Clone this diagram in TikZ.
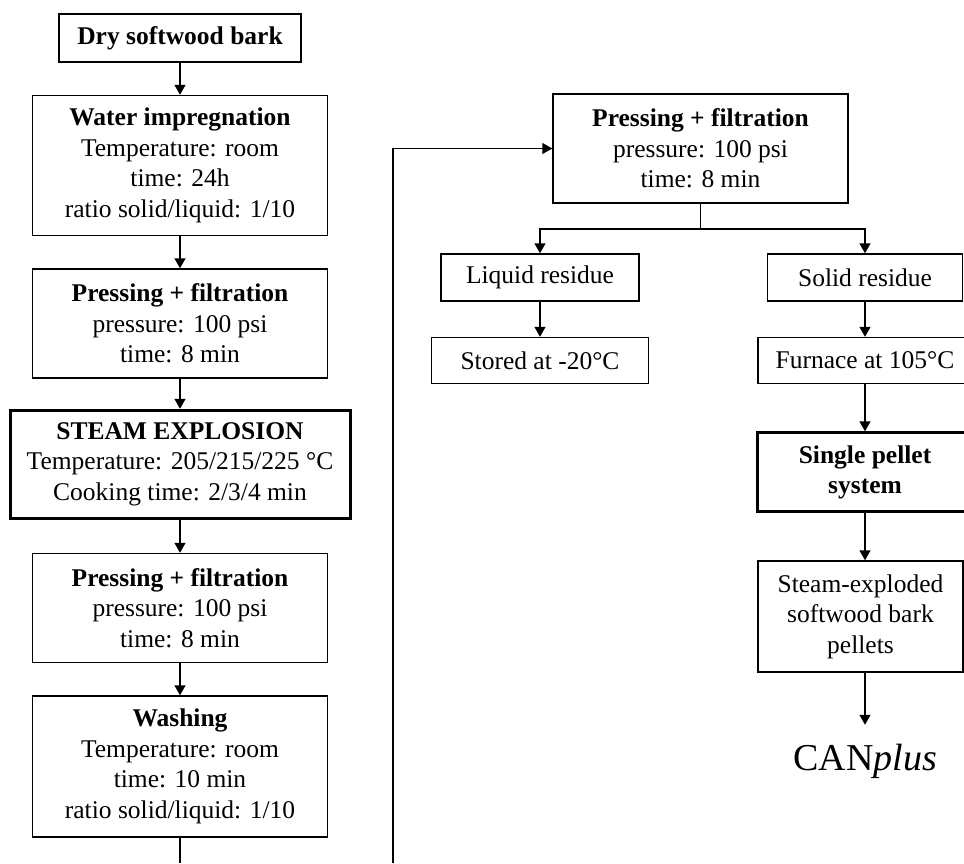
\documentclass[tikz,border=0pt]{standalone}
\usepackage{fontspec}
\setmainfont{Liberation Serif}
\usetikzlibrary{arrows.meta,positioning}

\begin{document}
\begin{tikzpicture}[
    x=0.5pt,y=-0.5pt,
    >={Triangle[length=5pt,width=5.5pt]},line width=0.75pt,node distance=16pt,
    font=\fontsize{12.75}{15.3}\selectfont,
    stepbox/.style={draw,rectangle,align=center,minimum width=147.5pt,minimum height=54.5pt,inner sep=2pt},
    keybox/.style={stepbox,line width=1.5pt}
  ]
  \useasboundingbox (0,0) rectangle (964,863);
  \node[stepbox,minimum width=121pt,minimum height=24pt] (dry) at (180,38) {\textbf{Dry softwood bark}};
  \node[stepbox,minimum height=70pt] (soak) [below=of dry] {\textbf{Water impregnation}\\Temperature: room\\time: 24h\\ratio solid/liquid: 1/10};
  \node[stepbox] (press1) [below=of soak] {\textbf{Pressing + filtration}\\pressure: 100 psi\\time: 8 min};
  \node[keybox,minimum width=170pt,minimum height=54pt] (steam) [below=15pt of press1] {\textbf{STEAM EXPLOSION}\\Temperature: 205/215/225 °C\\Cooking time: 2/3/4 min};
  \node[stepbox] (press2) [below=16.5pt of steam] {\textbf{Pressing + filtration}\\pressure: 100 psi\\time: 8 min};
  \node[stepbox,minimum height=70.5pt] (wash) [below=of press2] {\textbf{Washing}\\Temperature: room\\time: 10 min\\ratio solid/liquid: 1/10};
  \coordinate (cut1) at (180,863);
  \coordinate (cut2) at (393,863);

  \node[stepbox] (press3) at (700.5,148.5) {\textbf{Pressing + filtration}\\pressure: 100 psi\\time: 8 min};
  \node[stepbox,minimum width=99pt,minimum height=23.5pt] (liquid) at (540,277.5) {Liquid residue};
  \node[stepbox,minimum width=108.5pt,minimum height=23pt] (stored) [below=17.5pt of liquid] {Stored at -20°C};
  \node[stepbox,minimum width=97.5pt,minimum height=23.5pt] (solid) at (865,277.5) {Solid residue};
  \node[stepbox,minimum width=107pt,minimum height=23pt] (furnace) [below=17.5pt of solid] {Furnace at 105°C};
  \node[keybox,minimum width=108pt,minimum height=39.5pt] (pellet) [below=23.5pt of furnace] {\textbf{Single pellet}\\\textbf{system}};
  \node[stepbox,minimum width=102.5pt,minimum height=55.5pt] (product) [below=23.5pt of pellet,xshift=-2.25pt] {Steam-exploded\\softwood bark\\pellets};
  \node[inner sep=0pt,outer sep=9.5pt,font=\fontsize{19}{22}\selectfont] (canplus) at (865,761) {CAN\textit{plus}};

  \draw[->] (dry) -- (soak);
  \draw[->] (soak) -- (press1);
  \draw[->] (press1) -- (steam);
  \draw[->] (steam) -- (press2);
  \draw[->] (press2) -- (wash);
  \draw (wash) -- (cut1);
  \draw[->] (cut2) |- (press3);
  \draw (press3.south) -- ++(0,25) coordinate (split);
  \draw[->] (split) -| (liquid);
  \draw[->] (split) -| (solid);
  \draw[->] (liquid) -- (stored);
  \draw[->] (solid) -- (furnace);
  \draw[->] (furnace) -- (pellet);
  \draw[->] (pellet.south) -- (pellet.south |- product.north);
  \draw[->] (canplus.north |- product.south) -- (canplus.north);
\end{tikzpicture}
\end{document}
